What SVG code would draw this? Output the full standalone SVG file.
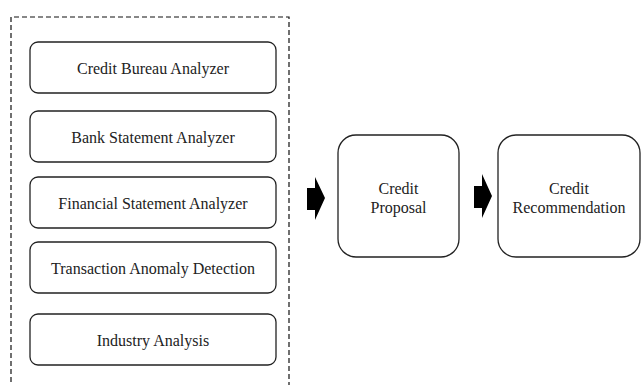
<svg xmlns="http://www.w3.org/2000/svg" width="641" height="385" viewBox="0 0 641 385">
<style>
.box{fill:#fff;stroke:#222;stroke-width:1.3}
.arr{fill:#000}
</style>
<rect width="641" height="385" fill="#fff"/>
<path d="M11,390 V17 H289 V390" fill="none" stroke="#111" stroke-width="1.2" stroke-dasharray="5,3"/>
<g font-family="'Times New Roman', 'Liberation Serif', 'DejaVu Serif', serif" font-size="16" fill="#222" text-anchor="middle">
<g id="credit-bureau"><rect class="box" x="30" y="42" width="246" height="51" rx="8"/><text x="153" y="73.5">Credit Bureau Analyzer</text></g>
<g id="bank-statement"><rect class="box" x="30" y="111" width="246" height="51" rx="8"/><text x="153" y="142.5">Bank Statement Analyzer</text></g>
<g id="financial-statement"><rect class="box" x="30" y="177" width="246" height="51" rx="8"/><text x="153" y="208.5">Financial Statement Analyzer</text></g>
<g id="transaction-anomaly"><rect class="box" x="30" y="242" width="246" height="51" rx="8"/><text x="153" y="273.5">Transaction Anomaly Detection</text></g>
<g id="industry-analysis"><rect class="box" x="30" y="314" width="246" height="51" rx="8"/><text x="153" y="345.5">Industry Analysis</text></g>
<g id="credit-proposal"><rect class="box" x="338" y="135" width="121" height="122" rx="18"/><text x="398.5" y="194">Credit</text><text x="398.5" y="213">Proposal</text></g>
<g id="credit-recommendation"><rect class="box" x="498" y="135" width="142" height="122" rx="18"/><text x="569" y="194">Credit</text><text x="569" y="213">Recommendation</text></g>
</g>
<g id="connectors">
<polygon class="arr" points="307,188 315,188 315,177 325,198 315,220 315,210 307,210"/>
<polygon class="arr" points="474,186 482,186 482,174 492,196 482,218 482,208 474,208"/>
</g>
</svg>
